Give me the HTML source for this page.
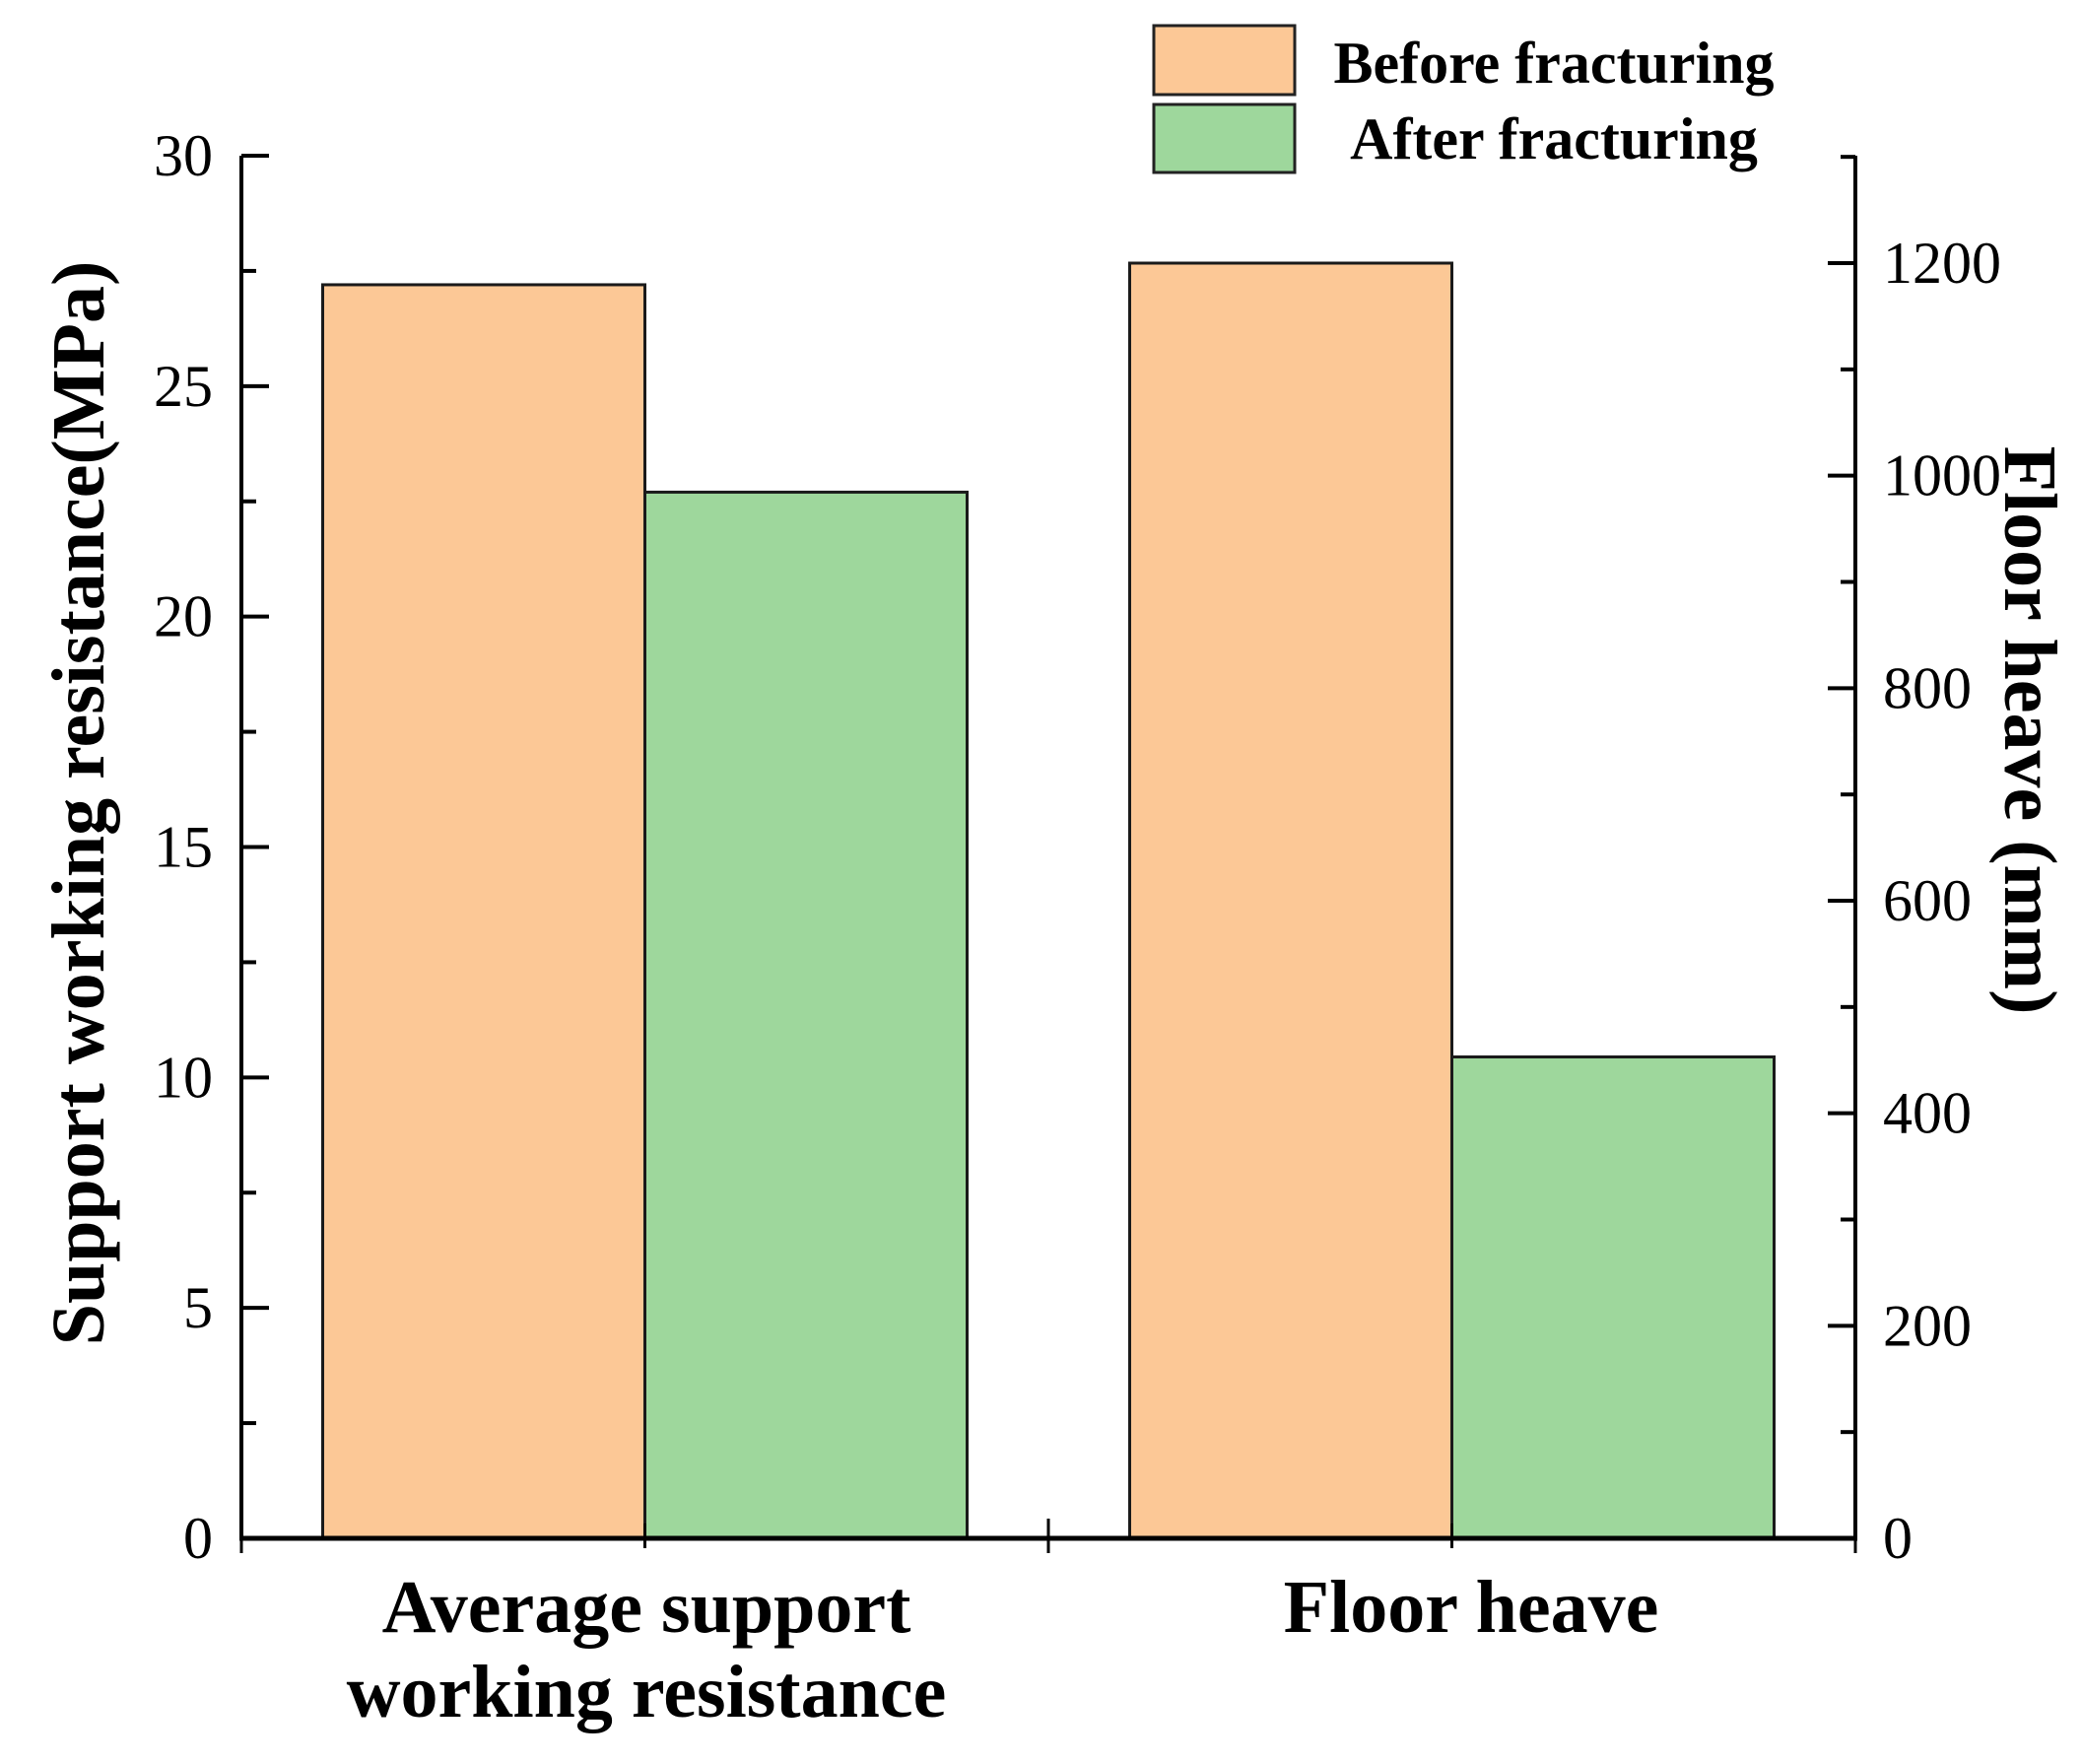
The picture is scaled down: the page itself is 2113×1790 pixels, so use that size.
<!DOCTYPE html>
<html><head><meta charset="utf-8"><style>
html,body{margin:0;padding:0;background:#fff;}
svg{display:block;}
text{font-family:"Liberation Serif","DejaVu Serif",serif;fill:#000;}
</style></head><body>
<svg id="chart" width="2113" height="1790" viewBox="0 0 2113 1790" xmlns="http://www.w3.org/2000/svg">
<g id="bars"></g>
<g id="axes"></g>
<g id="legend">
  <rect x="1171" y="26" width="143" height="70" fill="#fcc896" stroke="#222" stroke-width="3"/>
  <rect x="1171" y="106" width="143" height="69" fill="#9ed79c" stroke="#222" stroke-width="3"/>
  <text x="1577" y="84" font-size="60" font-weight="bold" text-anchor="middle">Before fracturing</text>
  <text x="1577" y="161" font-size="60" font-weight="bold" text-anchor="middle">After fracturing</text>
</g>
<text font-size="76" font-weight="bold" text-anchor="middle" transform="translate(105,815) rotate(-90)">Support working resistance(MPa)</text>
<text font-size="76" font-weight="bold" text-anchor="middle" transform="translate(2035,741) rotate(90)">Floor heave (mm)</text>
<text font-size="76" font-weight="bold" text-anchor="middle"><tspan x="656" y="1656">Average support</tspan><tspan x="656" y="1742">working resistance</tspan></text>
<text x="1493" y="1656" font-size="76" font-weight="bold" text-anchor="middle">Floor heave</text>
</svg>
<script>
const categories = ["Average support working resistance", "Floor heave"];
const beforeValues = [27.2, 1200];
const afterValues = [22.7, 453];
const seriesAxis = ["left", "right"];
const leftTicks = [0, 5, 10, 15, 20, 25, 30];
const rightTicks = [0, 200, 400, 600, 800, 1000, 1200];

const NS = "http://www.w3.org/2000/svg";
const X0 = 245, X1 = 1883, Y0 = 1561, YT = 158;
const leftMax = 30;
const rightPx = (1561 - 267) / 1200;
function yLeft(v){ return Y0 - (v / leftMax) * (Y0 - YT); }
function yRight(v){ return Y0 - v * rightPx; }
function xCat(i){ return X0 + (X1 - X0) * (i + 0.5) / categories.length; }
const barW = 327;

function mk(tag, attrs, parent){
  const e = document.createElementNS(NS, tag);
  for (const k in attrs) e.setAttribute(k, attrs[k]);
  parent.appendChild(e);
  return e;
}
const bars = document.getElementById('bars');
const axes = document.getElementById('axes');

categories.forEach((c, i) => {
  const yf = seriesAxis[i] === 'left' ? yLeft : yRight;
  const cx = xCat(i);
  const yb = yf(beforeValues[i]);
  const b = mk('rect', {x: cx - barW, y: yb, width: barW, height: Y0 - yb, fill: '#fcc896', stroke: '#1a1a1a', 'stroke-width': 3}, bars);
  
  
  const ya = yf(afterValues[i]);
  const a = mk('rect', {x: cx, y: ya, width: barW, height: Y0 - ya, fill: '#9ed79c', stroke: '#1a1a1a', 'stroke-width': 3}, bars);
  
  
});

const la = mk('line', {x1: X0, y1: YT, x2: X0, y2: Y0, stroke: '#000', 'stroke-width': 4}, axes);


const ra = mk('line', {x1: X1, y1: YT, x2: X1, y2: Y0, stroke: '#000', 'stroke-width': 4}, axes);


const xa = mk('line', {x1: X0 - 2, y1: Y0, x2: X1 + 2, y2: Y0, stroke: '#000', 'stroke-width': 5}, axes);



leftTicks.forEach((v, i) => {
  const y = yLeft(v);
  mk('line', {x1: X0, y1: y, x2: X0 + 28, y2: y, stroke: '#000', 'stroke-width': 4}, axes);
  if (i < leftTicks.length - 1) {
    const ym = yLeft(v + (leftTicks[1] - leftTicks[0]) / 2);
    mk('line', {x1: X0, y1: ym, x2: X0 + 15, y2: ym, stroke: '#000', 'stroke-width': 4}, axes);
  }
  const t = mk('text', {x: 216, y: y + 20, 'font-size': 60, 'text-anchor': 'end'}, axes);
  t.textContent = v;
  
  
});
rightTicks.forEach((v, i) => {
  const y = yRight(v);
  mk('line', {x1: X1, y1: y, x2: X1 - 28, y2: y, stroke: '#000', 'stroke-width': 4}, axes);
  const ym = yRight(v + (rightTicks[1] - rightTicks[0]) / 2);
  if (ym > YT) mk('line', {x1: X1, y1: ym, x2: X1 - 15, y2: ym, stroke: '#000', 'stroke-width': 4}, axes);
  const t = mk('text', {x: 1911, y: y + 20, 'font-size': 60, 'text-anchor': 'start'}, axes);
  t.textContent = v;
  
  
});
categories.forEach((c, i) => {
  mk('line', {x1: xCat(i), y1: Y0 - 15, x2: xCat(i), y2: Y0 + 10, stroke: '#000', 'stroke-width': 3}, axes);
});
mk('line', {x1: (X0 + X1) / 2, y1: Y0 - 20, x2: (X0 + X1) / 2, y2: Y0 + 15, stroke: '#000', 'stroke-width': 3}, axes);
mk('line', {x1: X0, y1: Y0, x2: X0, y2: Y0 + 15, stroke: '#000', 'stroke-width': 3}, axes);
mk('line', {x1: X1, y1: Y0, x2: X1, y2: Y0 + 15, stroke: '#000', 'stroke-width': 3}, axes);
</script>
</body></html>
